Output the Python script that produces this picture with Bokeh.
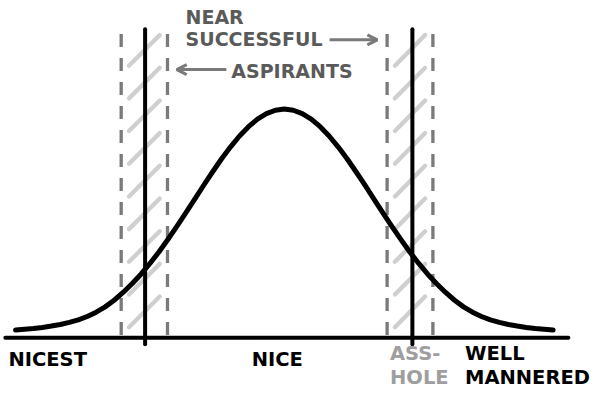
from bokeh.plotting import figure
from bokeh.models import Range1d, Arrow, OpenHead, ColumnDataSource
from bokeh.core.properties import value
from bokeh.embed import file_html
from bokeh.resources import INLINE

# ---- data (x in spread units, y relative to peak) ----
curve_x = [-3.0, -2.9, -2.8, -2.7, -2.6, -2.5, -2.4, -2.3, -2.2, -2.1, -2.0,
           -1.9, -1.8, -1.7, -1.6, -1.5, -1.4, -1.3, -1.2, -1.1, -1.0,
           -0.9, -0.8, -0.7, -0.6, -0.5, -0.4, -0.3, -0.2, -0.1, 0.0,
           0.1, 0.2, 0.3, 0.4, 0.5, 0.6, 0.7, 0.8, 0.9, 1.0,
           1.1, 1.2, 1.3, 1.4, 1.5, 1.6, 1.7, 1.8, 1.9, 2.0,
           2.1, 2.2, 2.3, 2.4, 2.5, 2.6, 2.7, 2.8, 2.9, 3.0]
curve_y = [0.034, 0.037, 0.040, 0.045, 0.051, 0.058, 0.067, 0.078, 0.093, 0.112, 0.135,
           0.164, 0.198, 0.236, 0.278, 0.325, 0.375, 0.430, 0.487, 0.546, 0.6065,
           0.667, 0.726, 0.783, 0.835, 0.8825, 0.923, 0.956, 0.980, 0.995, 1.0,
           0.995, 0.980, 0.956, 0.923, 0.8825, 0.835, 0.783, 0.726, 0.667, 0.6065,
           0.546, 0.487, 0.430, 0.375, 0.325, 0.278, 0.236, 0.198, 0.164, 0.135,
           0.112, 0.093, 0.078, 0.067, 0.058, 0.051, 0.045, 0.040, 0.037, 0.034]
threshold_x = [-1.554, 1.429]          # solid cut-off lines
band_left = [-1.821, 1.147]            # dashed band edges
band_right = [-1.304, 1.658]
axis_start = -3.114
axis_end = 3.17
line_top = 1.349
band_top = 1.328

bottom_labels = ["NICEST", "NICE", "ASS-\nHOLE", "WELL\nMANNERED"]
bottom_label_x = [-3.08, -0.364, 1.179, 2.016]
bottom_label_y = [-0.0945, -0.0945, -0.122, -0.122]
bottom_label_color = ["black", "black", "#9e9e9e", "black"]

top_labels = ["NEAR\nSUCCESSFUL", "ASPIRANTS"]
top_label_x = [-1.103, -0.592]
top_label_y = [1.353, 1.168]

GRAY = "#7a7a7a"
HATCH = "#cfcfcf"
FONT = value("DejaVu Sans")

p = figure(width=596, height=392, output_backend="svg", toolbar_location=None,
           x_range=Range1d(-3.168, 3.484), y_range=Range1d(-0.2395, 1.475),
           x_axis_location=None, y_axis_location=None, min_border=0)
p.grid.visible = False
p.outline_line_color = None
p.background_fill_color = "white"
p.border_fill_color = "white"

# hatch strokes inside the two bands (built from the band edges)
inset = 8 / 92
hx0, hy0, hx1, hy1 = [], [], [], []
for xl, xr in zip(band_left, band_right):
    for k in range(9):
        yb = 0.046 + k * 0.143
        hx0.append(xl + inset); hy0.append(yb)
        hx1.append(xr - inset); hy1.append(yb + 0.134)
p.segment(hx0, hy0, hx1, hy1, line_color=HATCH, line_width=4.3, line_cap="round")

# dashed band edges
edges = band_left + band_right
p.segment(edges, [band_top] * 4, edges, [0.008] * 4, line_color=GRAY,
          line_width=3.3, line_dash="13 11")

# bell curve
p.line(curve_x, curve_y, line_color="black", line_width=5,
       line_cap="round", line_join="round")

# solid thresholds
p.segment(threshold_x, [line_top] * 2, threshold_x, [-0.029] * 2,
          line_color="black", line_width=4, line_cap="round")

# baseline
p.segment([axis_start], [0], [axis_end], [0], line_color="black", line_width=4,
          line_cap="round")

# labels
src_b = ColumnDataSource(dict(x=bottom_label_x, y=bottom_label_y,
                              t=bottom_labels, c=bottom_label_color))
p.text("x", "y", text="t", source=src_b, text_color="c", text_font=FONT,
       text_font_style="bold", text_font_size="19.5px", text_align="left",
       text_baseline="middle", text_line_height=1.05)

src_t = ColumnDataSource(dict(x=top_label_x, y=top_label_y, t=top_labels))
p.text("x", "y", text="t", source=src_t, text_color="#5a5a5a", text_font=FONT,
       text_font_style="bold", text_font_size="19px", text_align="left",
       text_baseline="middle", text_line_height=1.0)

# arrows
p.add_layout(Arrow(end=OpenHead(size=10, line_width=3, line_color=GRAY),
                   x_start=0.505, y_start=1.303, x_end=1.038, y_end=1.303,
                   line_color=GRAY, line_width=3))
p.add_layout(Arrow(end=OpenHead(size=10, line_width=3, line_color=GRAY),
                   x_start=-0.647, y_start=1.173, x_end=-1.201, y_end=1.173,
                   line_color=GRAY, line_width=3))

open("out.html", "w").write(file_html(p, INLINE))
